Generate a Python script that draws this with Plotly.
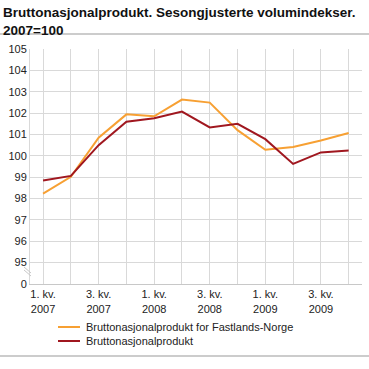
import plotly.graph_objects as go

quarters = ["1. kv.<br>2007", "2. kv.<br>2007", "3. kv.<br>2007", "4. kv.<br>2007",
            "1. kv.<br>2008", "2. kv.<br>2008", "3. kv.<br>2008", "4. kv.<br>2008",
            "1. kv.<br>2009", "2. kv.<br>2009", "3. kv.<br>2009", "4. kv.<br>2009"]
fastland = [98.23, 99.02, 100.85, 101.94, 101.85, 102.63, 102.49, 101.2, 100.28, 100.41, 100.72, 101.07]
bnp = [98.85, 99.06, 100.5, 101.6, 101.76, 102.07, 101.33, 101.5, 100.78, 99.62, 100.16, 100.25]
series_names = ["Bruttonasjonalprodukt for Fastlands-Norge", "Bruttonasjonalprodukt"]
colors = ["#f7a033", "#a0171f"]
y_ticks = [94, 95, 96, 97, 98, 99, 100, 101, 102, 103, 104, 105]
y_labels = ["0", "95", "96", "97", "98", "99", "100", "101", "102", "103", "104", "105"]

PL, PT, PW, PH = 30, 49, 332, 235  # plot area in pixels


def px(x):
    return (x - PL) / PW


def py(y):
    return (PT + PH - y) / PH


xs = list(range(len(quarters)))
ticktext = [q if i % 2 == 0 else "" for i, q in enumerate(quarters)]

fig = go.Figure()
for vals, name, col in zip([fastland, bnp], series_names, colors):
    fig.add_trace(go.Scatter(x=xs, y=vals, mode="lines", name=name,
                             line=dict(color=col, width=2), showlegend=False))

# custom legend
for i, (name, col) in enumerate(zip(series_names, colors)):
    yy = 327 + 14 * i
    fig.add_shape(type="line", xref="paper", yref="paper",
                  x0=px(58), x1=px(80), y0=py(yy), y1=py(yy),
                  line=dict(color=col, width=2))
    fig.add_annotation(xref="paper", yref="paper", x=px(84), y=py(yy),
                       xanchor="left", yanchor="middle", text=name, showarrow=False,
                       font=dict(size=11, color="#222"))

# axis break marks
for dy in (0, 3):
    fig.add_shape(type="line", xref="paper", yref="paper",
                  x0=px(24), x1=px(31), y0=py(267 + dy), y1=py(273 + dy),
                  line=dict(color="#c8c8c8", width=1))

# title
fig.add_annotation(xref="paper", yref="paper", x=px(1), y=py(3), xanchor="left", yanchor="top",
                   align="left", showarrow=False,
                   text="<b>Bruttonasjonalprodukt. Sesongjusterte volumindekser.<br>2007=100</b>",
                   font=dict(size=13.5, color="#111"))

# separator lines (title / bottom)
for yy in (34, 356):
    fig.add_shape(type="line", xref="paper", yref="paper", x0=px(0), x1=px(369),
                  y0=py(yy), y1=py(yy), line=dict(color="#999", width=1))

fig.update_layout(
    width=369, height=369,
    margin=dict(l=PL, r=369 - PL - PW, t=PT, b=369 - PT - PH),
    paper_bgcolor="white", plot_bgcolor="white",
    font=dict(family="Liberation Sans, Arial, sans-serif", size=11, color="#222"),
    showlegend=False,
    xaxis=dict(range=[-0.47, 11.48], tickmode="array", tickvals=xs, ticktext=ticktext,
               showgrid=True, gridcolor="#d9d9d9", gridwidth=1,
               showline=True, linecolor="#c8c8c8", ticks="", zeroline=False,
               tickfont=dict(size=11)),
    yaxis=dict(range=[94, 105], tickmode="array", tickvals=y_ticks, ticktext=y_labels,
               showgrid=True, gridcolor="#d9d9d9", gridwidth=1,
               showline=True, linecolor="#d9d9d9", ticks="", zeroline=False,
               tickfont=dict(size=11)),
)

fig.write_html("out.html", config={"displayModeBar": False},
               post_script="document.body.style.margin='0';")
